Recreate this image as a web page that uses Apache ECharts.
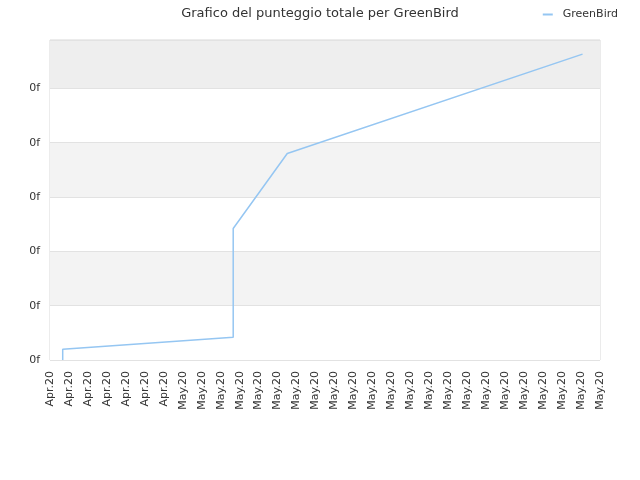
<!DOCTYPE html>
<html>
<head>
<meta charset="utf-8">
<script src="https://cdn.jsdelivr.net/npm/echarts@6/dist/echarts.min.js"></script>
<style>html,body{margin:0;padding:0;background:#fff}#c{width:640px;height:480px}</style>
</head>
<body>
<div id="c"></div>
<script>
var xTickLabels = ["Apr.20","Apr.20","Apr.20","Apr.20","Apr.20","Apr.20","Apr.20",
  "May.20","May.20","May.20","May.20","May.20","May.20","May.20","May.20","May.20",
  "May.20","May.20","May.20","May.20","May.20","May.20","May.20","May.20","May.20",
  "May.20","May.20","May.20","May.20","May.20"];
var xPositions = [0.67, 0.67, 9.66, 9.66, 12.51, 28.08];
var scores = [0, 0.20, 0.42, 2.42, 3.80, 5.63];
var seriesName = "GreenBird";
var titleText = "Grafico del punteggio totale per GreenBird";

var data = xPositions.map(function (x, i) { return [x, scores[i]]; });
var chart = echarts.init(document.getElementById('c'));
chart.setOption({
  animation: false,
  textStyle: { fontFamily: 'DejaVu Sans' },
  title: {
    text: titleText, left: 'center', top: 2,
    textStyle: { fontSize: 13, fontWeight: 'normal', color: '#333', fontFamily: 'DejaVu Sans' }
  },
  legend: {
    right: 17, top: 4, itemWidth: 10, itemHeight: 2, itemGap: 5,
    icon: 'rect',
    textStyle: { fontSize: 11, color: '#333', fontFamily: 'DejaVu Sans', padding: [0, 0, 0, 5] },
    data: [seriesName]
  },
  grid: { left: 50, right: 40, top: 40, bottom: 120, show: true, borderColor: '#d8d8d8', borderWidth: 1, backgroundColor: 'transparent' },
  xAxis: {
    type: 'value', min: 0, max: 29, interval: 1,
    axisLine: { show: false }, axisTick: { show: false },
    splitLine: { show: false },
    axisLabel: {
      rotate: 90, fontSize: 11, color: '#333', margin: 11, fontFamily: 'DejaVu Sans',
      formatter: function (v) { return xTickLabels[Math.round(v)] || ''; }
    }
  },
  yAxis: {
    type: 'value', min: 0, max: 5.89, interval: 1,
    axisLine: { show: false }, axisTick: { show: false },
    splitLine: { show: true, lineStyle: { color: '#e2e2e2' } },
    splitArea: { show: true, areaStyle: { color: ['#ffffff', '#f3f3f3', '#ffffff', '#f3f3f3', '#ffffff', '#eeeeee'] } },
    axisLabel: {
      fontSize: 11, color: '#333', margin: 10, fontFamily: 'DejaVu Sans',
      formatter: function (v) { return v > 5.5 ? '' : '0f'; }
    }
  },
  series: [{
    name: seriesName, type: 'line', data: data, showSymbol: false, symbol: 'none',
    lineStyle: { color: '#95c6f2', width: 1.5 }, itemStyle: { color: '#95c6f2' }
  }]
});
</script>
</body>
</html>
